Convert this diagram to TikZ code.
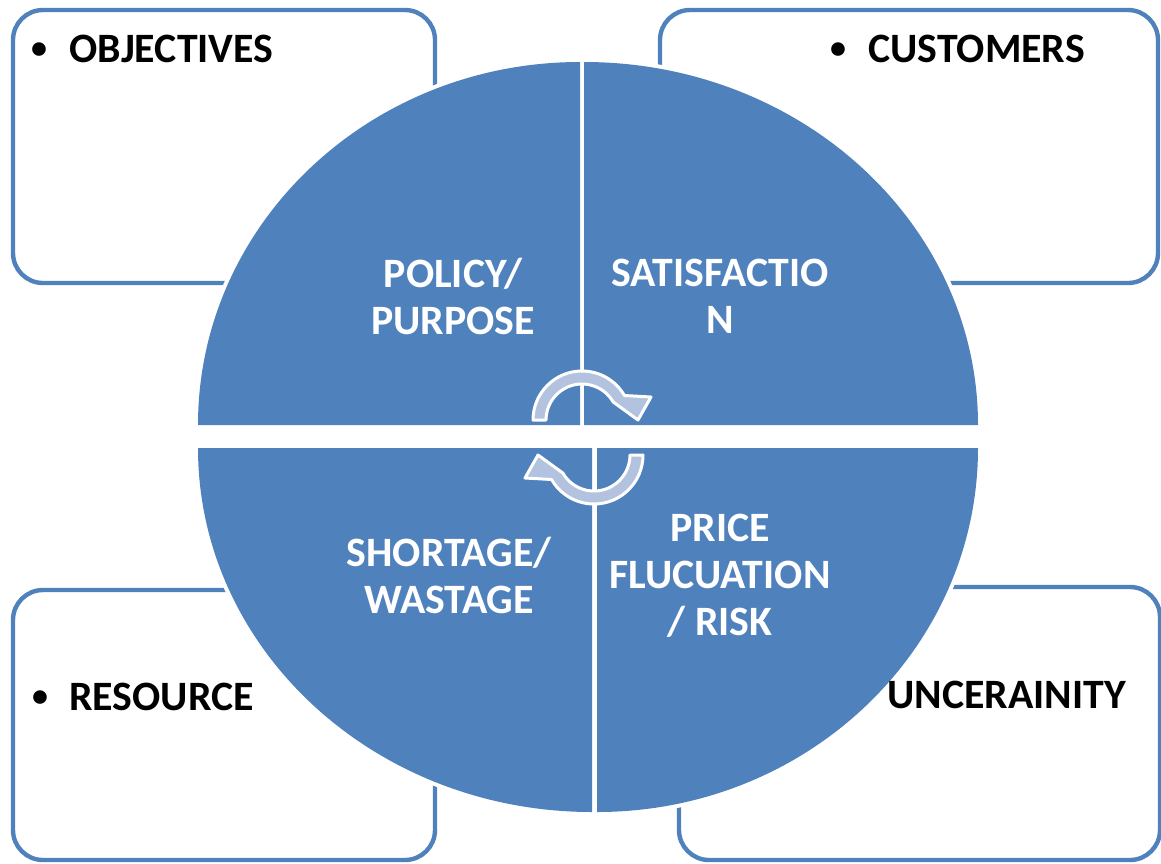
\documentclass[tikz,border=0pt]{standalone}
\usepackage{fontspec}
\setmainfont{Carlito}
\usepackage{tikz}
\definecolor{quad}{HTML}{4F81BD}
\definecolor{turnblue}{HTML}{B3C2DE}

\begin{document}
\begin{tikzpicture}[x=0.5pt, y=-0.5pt, box/.style = {draw=quad, line width=2.2pt, rounded corners=15pt}, tag/.style = {font=\fontsize{20.9}{23.5}\selectfont\bfseries, text=black, inner sep=0pt}, dot/.style = {font=\fontsize{16}{16}\selectfont\bfseries, text=black, inner sep=0pt, anchor=base}, seg/.style = {font=\fontsize{20.9}{23.5}\selectfont\bfseries, text=white, align=center, inner sep=0pt}, turn/.style = {fill=turnblue, draw=white, line width=1.5pt, line join=round}]
    \useasboundingbox (0,0) rectangle (1161,863);
    \draw[box] (13,10) rectangle (435,283);
    \draw[box] (660,10) rectangle (1158,283);
    \draw[box] (13,590) rectangle (435,860);
    \draw[box] (679,587) rectangle (1160,860);
    \foreach \cx/\cy/\a/\rx/\ry in {580/425/180/382/363, 584/425/270/394/363, 597/448/0/381/364, 592/448/90/394/364}
        \draw[white, line width=4pt] (\cx,\cy) -- ++({\rx*cos(\a)},{\ry*sin(\a)}) arc[start angle=\a, delta angle=90, x radius=\rx, y radius=\ry] -- cycle;
    \foreach \cx/\cy/\a/\rx/\ry in {580/425/180/382/363, 584/425/270/394/363, 597/448/0/381/364, 592/448/90/394/364}
        \fill[quad] (\cx,\cy) -- ++({\rx*cos(\a)},{\ry*sin(\a)}) arc[start angle=\a, delta angle=90, x radius=\rx, y radius=\ry] -- cycle;
    \coordinate (c1) at (582,420);
    \coordinate (c2) at (594,455);
    \draw[turn] ([shift={(180:49)}]c1) arc[start angle=180, end angle=330, radius=49] -- (651,397) -- (638,420) -- ([shift={(330:36)}]c1) arc[start angle=330, end angle=180, radius=36] -- cycle;
    \draw[turn] ([shift={(0:49)}]c2) arc[start angle=0, end angle=150, radius=49] -- (525,478) -- (538,455) -- ([shift={(150:36)}]c2) arc[start angle=150, end angle=0, radius=36] -- cycle;
    \node[dot] (b1) at (39,58) {•};
    \node[tag, anchor=base west] (objectives) at (69,62) {OBJECTIVES};
    \node[dot] (b2) at (838,58) {•};
    \node[tag, anchor=base west] (customers) at (868,62) {CUSTOMERS};
    \node[dot] (b3) at (40,706) {•};
    \node[tag, anchor=base west] (resource) at (69,710) {RESOURCE};
    \node[tag, anchor=base west] (uncertainty) at (887,708) {UNCERAINITY};
    \node[seg] (policy) at (453,296) {POLICY/\\PURPOSE};
    \node[seg] (satisfaction) at (720,296) {SATISFACTIO\\N};
    \node[seg] (shortage) at (449,575) {SHORTAGE/\\WASTAGE};
    \node[seg] (price) at (720,576) {PRICE\\FLUCUATION\\/ RISK};
\end{tikzpicture}
\end{document}
